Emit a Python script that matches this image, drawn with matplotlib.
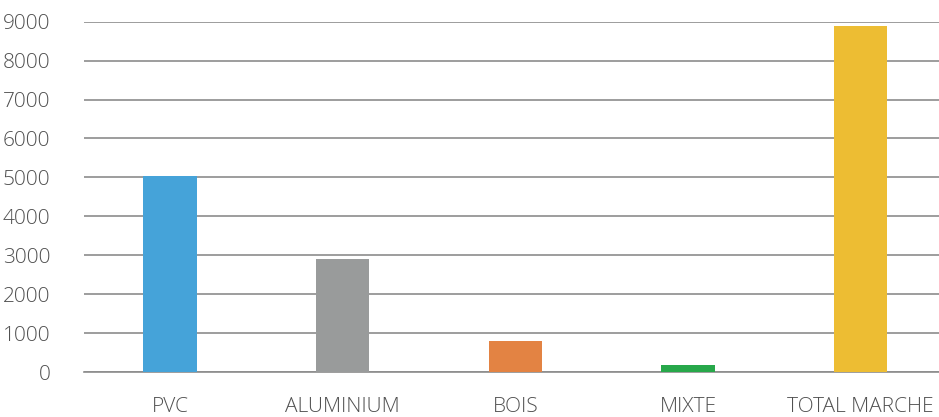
import matplotlib.pyplot as plt
import numpy as np

categories = ["PVC", "ALUMINIUM", "BOIS", "MIXTE", "TOTAL MARCHE"]
values = [5030, 2900, 800, 190, 8880]
colors = ["#45A3D9", "#999B9B", "#E38343", "#27A84A", "#EDBD33"]

plt.rcParams['font.family'] = ['Open Sans', 'DejaVu Sans']

fig = plt.figure(figsize=(9.39, 4.17), dpi=100)
ax = fig.add_axes([83.6/939, 1 - 372/417, (947 - 83.6)/939, (372 - 21.7)/417])

x = np.arange(len(categories))
ax.bar(x, values, width=0.31, color=colors, zorder=3)

ax.set_xlim(-0.5, len(categories) - 0.5)
ax.set_ylim(0, 9000)
ax.set_yticks(np.arange(0, 9001, 1000))
ax.set_xticks(x)
ax.set_xticklabels(categories)
ax.yaxis.grid(True, color="#8c8c8c", linewidth=1.2, zorder=0)
ax.set_axisbelow(True)
for s in ["top", "right", "left"]:
    ax.spines[s].set_visible(False)
ax.spines["bottom"].set_color("#8c8c8c")
ax.spines["bottom"].set_linewidth(1.2)
ax.tick_params(axis="both", length=0, labelcolor="#505050", labelsize=15)
ax.tick_params(axis="y", pad=24)
ax.tick_params(axis="x", pad=18)
for lbl in ax.get_xticklabels() + ax.get_yticklabels():
    lbl.set_fontweight("light")

plt.savefig("out.png", dpi=100, facecolor="w")
